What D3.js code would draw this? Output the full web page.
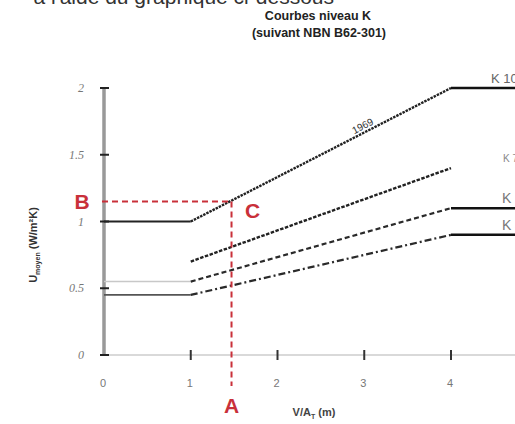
<!DOCTYPE html>
<html><head><meta charset="utf-8">
<script src="https://cdn.jsdelivr.net/npm/d3@7"></script>
<style>body{margin:0;background:#fff}svg{display:block}</style>
</head><body>
<script>
// Data
const xBreaks = [0, 1, 4, 4.8];
const K100 = [1, 1, 2, 2];
const K70 = [null, 0.7, 1.4, null];
const K55 = [0.55, 0.55, 1.1, 1.1];
const K45 = [0.45, 0.45, 0.9, 0.9];
const xTicks = [0, 1, 2, 3, 4];
const yTicks = [0, 0.5, 1, 1.5, 2];
const curveLabels = ["K 100", "K 70", "K 55", "K 45"];
const pointA = 1.47, pointB = 1.15;

const W = 515, H = 424;
const svg = d3.select("body").append("svg").attr("width", W).attr("height", H);
const x = d3.scaleLinear().domain([0, 4]).range([104, 451]);
const y = d3.scaleLinear().domain([0, 2]).range([355, 88]);

// cut-off heading text at top
svg.append("text").attr("x", 334).attr("y", 4).attr("text-anchor", "end")
  .attr("font-family", "Liberation Sans, Arial").attr("font-size", 21).attr("fill", "#333")
  .text("à l'aide du graphique ci-dessous");

// title
const title = svg.append("text").attr("text-anchor", "middle").attr("font-family", "Liberation Sans, Arial")
  .attr("font-weight", "bold").attr("font-size", 12.5).attr("fill", "#222");
title.append("tspan").attr("x", 318).attr("y", 20).text("Courbes niveau K");
title.append("tspan").attr("x", 319).attr("y", 37).text("(suivant NBN B62-301)");

// x axis line
svg.append("line").attr("x1", x(0)).attr("x2", W).attr("y1", y(0)).attr("y2", y(0))
  .attr("stroke", "#ccc").attr("stroke-width", 1.5);
svg.selectAll(".xt").data(xTicks.slice(1)).join("line")
  .attr("x1", d => x(d)).attr("x2", d => x(d)).attr("y1", y(0) - 5).attr("y2", y(0) + 5)
  .attr("stroke", "#333").attr("stroke-width", 2);
svg.selectAll(".xl").data(xTicks).join("text")
  .attr("x", d => x(d) - 1).attr("y", 387).attr("text-anchor", "middle")
  .attr("font-family", "Liberation Sans, Arial").attr("font-size", 11).attr("fill", "#777")
  .text(d => d);

// y axis
svg.append("line").attr("x1", x(0)).attr("x2", x(0)).attr("y1", y(2)).attr("y2", y(0))
  .attr("stroke", "#999").attr("stroke-width", 3.5);
svg.selectAll(".yt").data(yTicks).join("line")
  .attr("x1", x(0) - 4).attr("x2", x(0) + 5).attr("y1", d => y(d)).attr("y2", d => y(d))
  .attr("stroke", "#222").attr("stroke-width", 2);
svg.selectAll(".yl").data(yTicks).join("text")
  .attr("x", 84).attr("y", d => y(d) + 4).attr("text-anchor", "end")
  .attr("font-family", "Liberation Serif, Times New Roman").attr("font-style", "italic")
  .attr("font-size", 12).attr("fill", "#777")
  .text(d => d);

// axis titles
const xt = svg.append("text").attr("x", 314).attr("y", 416).attr("text-anchor", "middle")
  .attr("font-family", "Liberation Sans, Arial").attr("font-weight", "bold").attr("font-size", 11).attr("fill", "#444");
xt.append("tspan").text("V/A");
xt.append("tspan").attr("font-size", 7).attr("dy", 3).text("T");
xt.append("tspan").attr("dy", -3).text(" (m)");

const yt = svg.append("text").attr("transform", "translate(37,245) rotate(-90)").attr("text-anchor", "middle")
  .attr("font-family", "Liberation Sans, Arial").attr("font-weight", "bold").attr("font-size", 11).attr("fill", "#333");
yt.append("tspan").text("U");
yt.append("tspan").attr("font-size", 7).attr("dy", 3).text("moyen");
yt.append("tspan").attr("dy", -3).text(" (W/m²K)");

// curve helper
function seg(vals, i0, i1, stroke, width, dash) {
  if (vals[i0] == null || vals[i1] == null) return;
  svg.append("line").attr("x1", x(xBreaks[i0])).attr("x2", x(xBreaks[i1]))
    .attr("y1", y(vals[i0])).attr("y2", y(vals[i1]))
    .attr("stroke", stroke).attr("stroke-width", width)
    .attr("stroke-dasharray", dash || null);
}
// K100
seg(K100, 0, 1, "#222", 2.2);
seg(K100, 1, 2, "#222", 2.4, "2.5,1");
seg(K100, 2, 3, "#111", 2.5);
// K70
seg(K70, 1, 2, "#222", 2.4, "3.5,1.5");
// K55
seg(K55, 0, 1, "#c8c8c8", 1.5);
seg(K55, 1, 2, "#2a2a2a", 2.2, "5,3");
seg(K55, 2, 3, "#111", 2.5);
// K45
seg(K45, 0, 1, "#555", 1.8);
seg(K45, 1, 2, "#2a2a2a", 2.2, "7,3,2,3");
seg(K45, 2, 3, "#111", 2.5);

// 1969 label along K100
const ang = Math.atan2(y(2) - y(1), x(4) - x(1)) * 180 / Math.PI;
svg.append("text").attr("transform", `translate(${x(3.0)},${y(1.67) - 3}) rotate(${ang})`)
  .attr("text-anchor", "middle").attr("font-family", "Liberation Sans, Arial").attr("font-size", 10)
  .attr("fill", "#333").text("1969");

// right labels (cut at edge)
const labelY = [K100[3], K70[2], K55[3], K45[3]];
const labelX = [491, 503, 502, 502];
const labelDy = [-5, -6, -5, -5];
const labelSize = [13, 10, 14, 14];
const labelCol = ["#666", "#888", "#777", "#777"];
svg.selectAll(".kl").data(curveLabels).join("text")
  .attr("x", (d, i) => labelX[i]).attr("y", (d, i) => y(labelY[i]) + labelDy[i])
  .attr("font-family", "Liberation Sans, Arial").attr("font-size", (d, i) => labelSize[i])
  .attr("fill", (d, i) => labelCol[i]).text(d => d);

// red annotation
const red = "#c9303a";
svg.append("line").attr("x1", x(0) - 2).attr("x2", x(pointA)).attr("y1", y(pointB)).attr("y2", y(pointB))
  .attr("stroke", red).attr("stroke-width", 2).attr("stroke-dasharray", "6,4");
svg.append("line").attr("x1", x(pointA)).attr("x2", x(pointA)).attr("y1", y(pointB)).attr("y2", 386)
  .attr("stroke", red).attr("stroke-width", 2).attr("stroke-dasharray", "6,4");
const redText = (t, px, py) => svg.append("text").attr("x", px).attr("y", py).attr("text-anchor", "middle")
  .attr("font-family", "Liberation Sans, Arial").attr("font-weight", "bold").attr("font-size", 21)
  .attr("fill", red).text(t);
redText("B", 82, y(pointB) + 8);
redText("A", x(pointA), 413);
redText("C", x(pointA) + 21, y(pointB) + 17);
</script>
</body></html>
